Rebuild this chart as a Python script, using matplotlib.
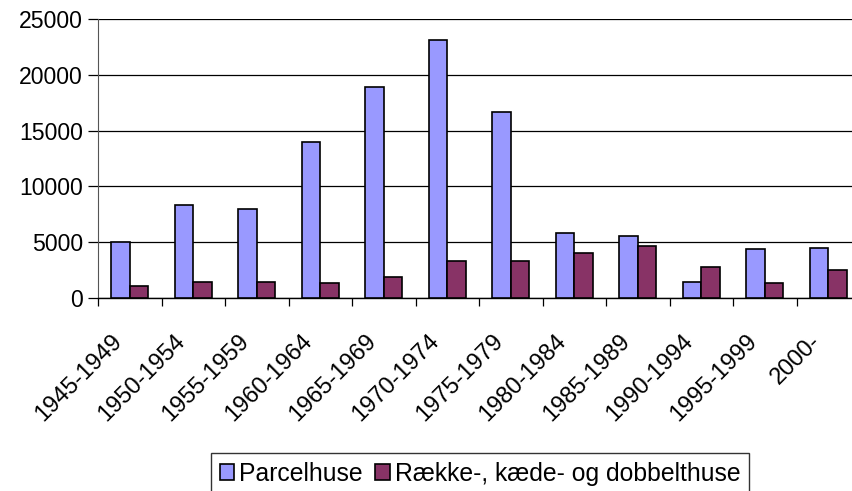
import matplotlib
matplotlib.use("Agg")
import matplotlib.pyplot as plt
import numpy as np

periods = ["1945-1949", "1950-1954", "1955-1959", "1960-1964", "1965-1969",
           "1970-1974", "1975-1979", "1980-1984", "1985-1989", "1990-1994",
           "1995-1999", "2000-"]
parcelhuse = [5000, 8300, 7950, 14000, 18900, 23100, 16700, 5800, 5550, 1450, 4350, 4480]
raekkehuse = [1050, 1450, 1450, 1300, 1850, 3300, 3300, 4050, 4700, 2750, 1300, 2500]

plt.rcParams['font.family'] = ['Liberation Sans', 'DejaVu Sans']


def main():
    fig = plt.figure(figsize=(8.52, 4.91), dpi=100)
    ax = fig.add_axes([98 / 852, 1 - 298 / 491, 762 / 852, 279 / 491])

    x = np.arange(len(periods))
    w = 0.294
    ax.bar(x - w / 2, parcelhuse, w, color="#9999FF", edgecolor="black",
           linewidth=1.2, label="Parcelhuse", zorder=3)
    ax.bar(x + w / 2, raekkehuse, w, color="#883366", edgecolor="black",
           linewidth=1.2, label="Række-, kæde- og dobbelthuse", zorder=3)

    ax.set_xlim(-0.5, len(periods) - 0.5)
    ax.set_ylim(0, 25000)
    ax.set_yticks(np.arange(0, 25001, 5000))
    ax.yaxis.grid(True, color="black", linewidth=0.9, zorder=0)

    # ticks at category edges, labels (invisible minor ticks) a bit left of centre
    ax.set_xticks(np.arange(-0.5, len(periods), 1.0))
    ax.set_xticklabels([])
    ax.set_xticks(x - 0.3, minor=True)
    ax.set_xticklabels(periods, minor=True, rotation=45, ha="right",
                       va="top", rotation_mode="anchor", fontsize=17)
    ax.tick_params(axis="x", which="minor", length=0, pad=23)
    ax.tick_params(axis="x", which="major", length=6, width=0.9, direction="out")
    ax.tick_params(axis="y", length=7, width=0.9, labelsize=16.6, pad=4)

    for s in ["top", "right"]:
        ax.spines[s].set_visible(False)
    ax.spines["left"].set_color("#555555")
    ax.spines["bottom"].set_linewidth(1.0)

    leg = fig.legend(loc="upper left", bbox_to_anchor=(211 / 852, 1 - 453 / 491),
                     ncol=2, fontsize=17.8, frameon=True, fancybox=False,
                     edgecolor="black", handlelength=0.6, handleheight=0.6,
                     handletextpad=0.2, columnspacing=0.48, borderpad=0.35,
                     borderaxespad=0)
    leg.get_frame().set_linewidth(1.0)

    fig.savefig("out.png", dpi=100)


if __name__ == '__main__':
    main()
